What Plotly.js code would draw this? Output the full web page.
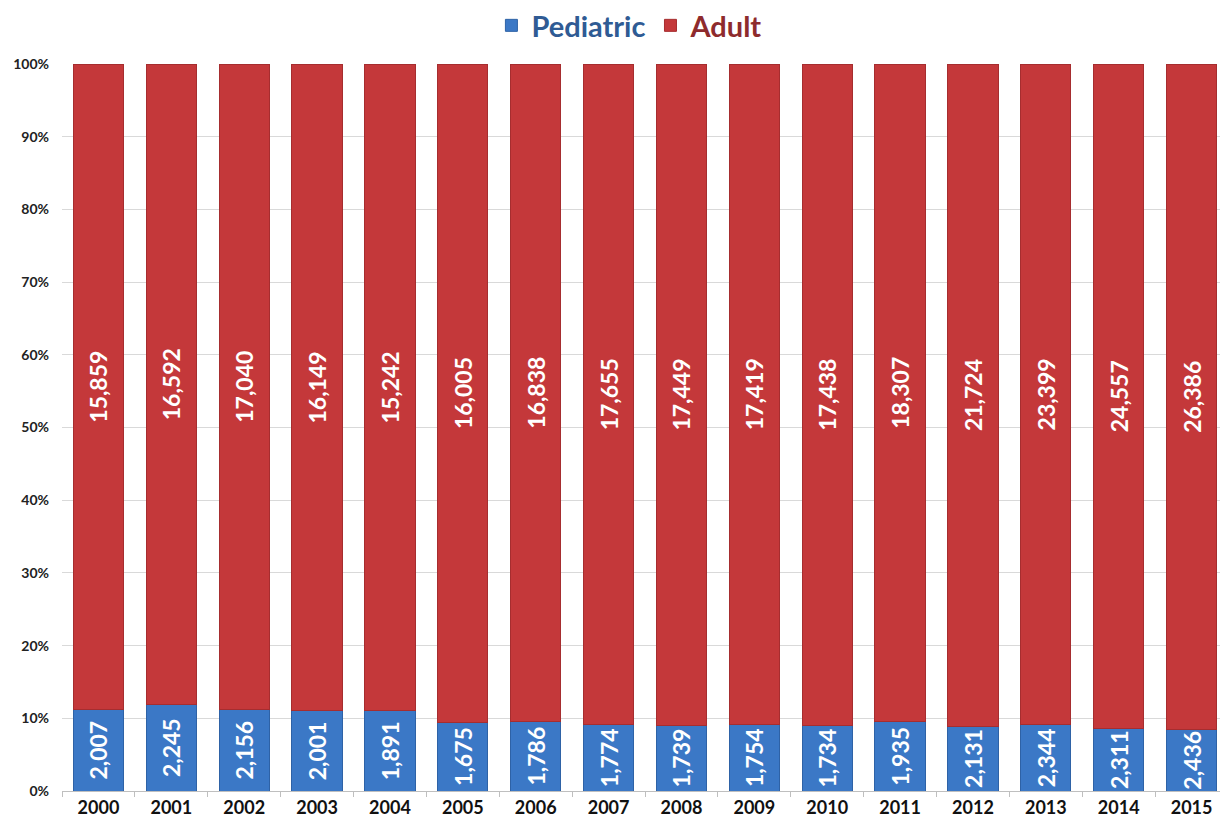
<!DOCTYPE html>
<html>
<head>
<meta charset="utf-8">
<script src="https://cdn.plot.ly/plotly-3.0.1.min.js"></script>
<style>html,body{margin:0;padding:0;background:#fff;}#chart{width:1220px;height:829px;}</style>
</head>
<body>
<div id="chart"></div>
<script>
const years = ["2000","2001","2002","2003","2004","2005","2006","2007","2008","2009","2010","2011","2012","2013","2014","2015"];
const pediatric = [2007,2245,2156,2001,1891,1675,1786,1774,1739,1754,1734,1935,2131,2344,2311,2436];
const adult = [15859,16592,17040,16149,15242,16005,16838,17655,17449,17419,17438,18307,21724,23399,24557,26386];
const yTicks = [0,10,20,30,40,50,60,70,80,90,100];

const fmt = v => v.toLocaleString('en-US');
const FONT = 'Lato, "Open Sans", sans-serif';
const labelFont = {family: FONT, size: 23, color: '#ffffff', weight: 'bold'};

const traces = [
  {
    type: 'bar', x: years, y: pediatric,
    name: '<span style="color:#2f5b94">Pediatric</span>',
    marker: {color: '#3b78c6', line: {color: '#2e62a6', width: 1}},
    text: pediatric.map(fmt), textposition: 'inside', insidetextanchor: 'middle',
    constraintext: 'none',
    textangle: -90, textfont: labelFont, hoverinfo: 'skip'
  },
  {
    type: 'bar', x: years, y: adult,
    name: '<span style="color:#8e2b2d">Adult</span>',
    marker: {color: '#c4383a', line: {color: '#a62d2f', width: 1}},
    text: adult.map(fmt), textposition: 'inside', insidetextanchor: 'middle',
    constraintext: 'none',
    textangle: -90, textfont: labelFont, hoverinfo: 'skip'
  }
];

const layout = {
  width: 1220, height: 829,
  margin: {l: 62, r: 0, t: 64, b: 38},
  barmode: 'stack', barnorm: 'percent', bargap: 0.31,
  paper_bgcolor: '#ffffff', plot_bgcolor: '#ffffff',
  showlegend: true,
  legend: {
    orientation: 'h', x: 0.49, xanchor: 'center', y: 1.0, yref: 'container', yanchor: 'top',
    font: {family: FONT, size: 29, weight: 'bold'},
    traceorder: 'normal', itemwidth: 30
  },
  xaxis: {
    type: 'category', range: [-0.5, 15.39],
    tickson: 'boundaries', ticks: 'outside', ticklen: 5, tickcolor: '#bfbfbf',
    showline: true, linecolor: '#bfbfbf', linewidth: 1,
    tickfont: {family: FONT, size: 18, color: '#111111', weight: 'bold'},
    showgrid: false
  },
  yaxis: {
    range: [0, 100], tickvals: yTicks, ticktext: yTicks.map(v => v + '%'),
    showgrid: true, gridcolor: '#d9d9d9', gridwidth: 1,
    zeroline: false, showline: false, ticks: '',
    tickfont: {family: FONT, size: 14, color: '#222222', weight: 'bold'},
    ticklabelstandoff: 12
  },
  font: {family: FONT}
};

Plotly.newPlot('chart', traces, layout, {displayModeBar: false, staticPlot: true});
</script>
</body>
</html>
